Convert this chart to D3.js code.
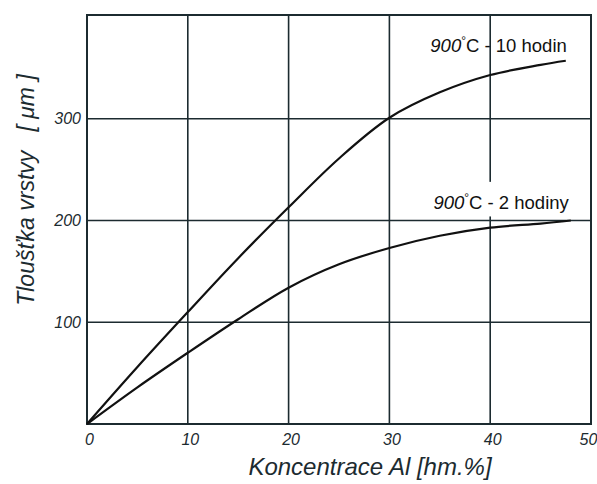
<!DOCTYPE html>
<html>
<head>
<meta charset="utf-8">
<script src="https://cdn.jsdelivr.net/npm/d3@7"></script>
<style>
  body { margin: 0; background: #fff; }
  svg { display: block; }
</style>
</head>
<body>
<svg></svg>
<script>
var width = 597
var height = 484

// concentration of Al [hm.%] vs layer thickness [um]
var xValues10h = [0, 5, 10, 15, 20, 25, 30, 35, 40, 45, 47.5]
var yValues10h = [0, 56, 110, 163, 213, 261, 301, 326, 343, 353, 357]
var xValues2h = [0, 5, 10, 15, 20, 25, 30, 35, 40, 45, 48]
var yValues2h = [0, 36, 70, 103, 134, 157, 173, 185, 193, 197, 200]

var xTicks = [0, 10, 20, 30, 40, 50]
var yTicks = [100, 200, 300]
var curveTemp = "900"
var curveTimes = ["- 10 hodin", "- 2 hodiny"]

var ink = "#1c2b30"
var font = "Liberation Sans, Arial, sans-serif"

var margin = {left: 87, right: 6, top: 15, bottom: 60}

var svg = d3.select("svg")
svg.attr("width", width)
svg.attr("height", height)

var x = d3.scaleLinear().domain([0, 50]).range([margin.left, width - margin.right])
var y = d3.scaleLinear().domain([0, 402]).range([height - margin.bottom, margin.top])

// grid
svg.append("g")
  .selectAll("line")
  .data(xTicks.slice(1, -1))
  .join("line")
  .attr("x1", d => x(d)).attr("x2", d => x(d))
  .attr("y1", y(0)).attr("y2", y(402))
  .attr("stroke", ink).attr("stroke-width", 1.6)

svg.append("g")
  .selectAll("line")
  .data(yTicks)
  .join("line")
  .attr("x1", x(0)).attr("x2", x(50))
  .attr("y1", d => y(d)).attr("y2", d => y(d))
  .attr("stroke", ink).attr("stroke-width", 1.6)

// frame
svg.append("rect")
  .attr("x", x(0)).attr("y", y(402))
  .attr("width", x(50) - x(0)).attr("height", y(0) - y(402))
  .attr("fill", "none").attr("stroke", ink).attr("stroke-width", 2)

// gap in the x=40 grid line behind the lower label
svg.append("rect")
  .attr("x", x(40) - 3).attr("y", y(238)).attr("width", 6).attr("height", y(204) - y(238))
  .attr("fill", "#fff")

// axes (tick labels only)
var xAxis = d3.axisBottom(x).tickValues(xTicks).tickSize(0).tickPadding(10)
var gx = svg.append("g").attr("transform", "translate(0," + y(0) + ")").call(xAxis)
gx.select(".domain").remove()
gx.selectAll("text")
  .attr("font-family", font)
  .attr("font-style", "italic").attr("font-size", 16).attr("fill", ink)
  .attr("dx", d => d == 50 ? -3 : 2)

var yAxis = d3.axisLeft(y).tickValues(yTicks).tickSize(0).tickPadding(6)
var gy = svg.append("g").attr("transform", "translate(" + x(0) + ",0)").call(yAxis)
gy.select(".domain").remove()
gy.selectAll("text")
  .attr("font-family", font)
  .attr("font-style", "italic").attr("font-size", 16).attr("fill", ink)

// curves
var line = d3.line()
  .x(d => x(d[0]))
  .y(d => y(d[1]))
  .curve(d3.curveCatmullRom.alpha(0.5))

svg.append("path")
  .datum(xValues10h.map((v, k) => [v, yValues10h[k]]))
  .attr("d", line)
  .attr("fill", "none").attr("stroke", "#111").attr("stroke-width", 2.2)

svg.append("path")
  .datum(xValues2h.map((v, k) => [v, yValues2h[k]]))
  .attr("d", line)
  .attr("fill", "none").attr("stroke", "#111").attr("stroke-width", 2.2)

// curve labels
function curveLabel(xr, yv, time){
  var t = svg.append("text")
    .attr("x", x(xr)).attr("y", y(yv))
    .attr("text-anchor", "end")
    .attr("font-family", font)
    .attr("font-size", 18.5).attr("fill", "#111")
  t.append("tspan").attr("font-style", "italic").text(curveTemp)
  t.append("tspan").attr("font-size", 12).attr("dy", -7).text("°")
  t.append("tspan").attr("dy", 7).text("C ")
  t.append("tspan").text(time)
}
curveLabel(47.6, 366, curveTimes[0])
curveLabel(47.8, 211, curveTimes[1])

// axis titles
svg.append("text")
  .attr("x", 370).attr("y", 475)
  .attr("text-anchor", "middle")
  .attr("font-family", font)
  .attr("font-style", "italic").attr("font-size", 24).attr("fill", ink)
  .text("Koncentrace Al [hm.%]")

svg.append("text")
  .attr("transform", "translate(34,190) rotate(-90)")
  .attr("text-anchor", "middle")
  .attr("font-family", font)
  .attr("font-style", "italic").attr("font-size", 23).attr("fill", ink)
  .attr("xml:space", "preserve")
  .text("Tloušťka vrstvy   [ μm ]")
</script>
</body>
</html>
